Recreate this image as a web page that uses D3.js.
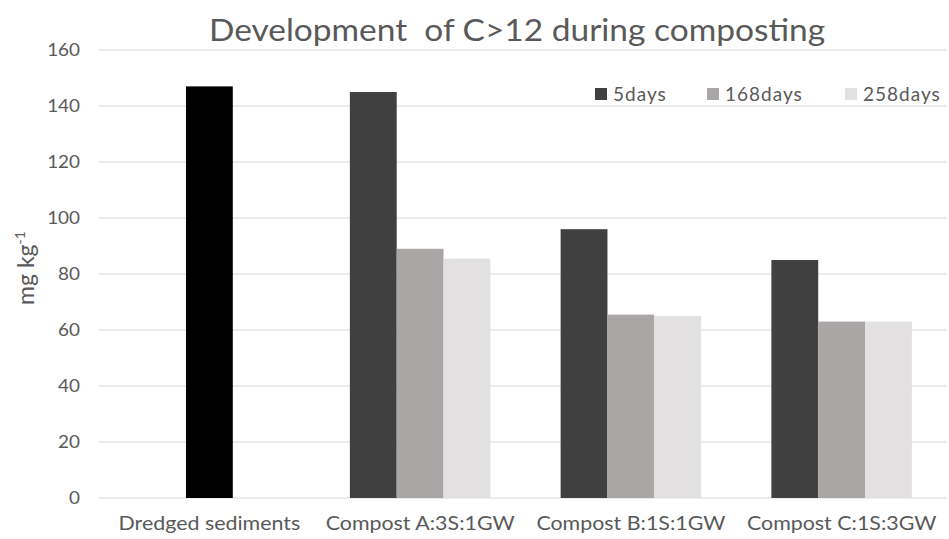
<!DOCTYPE html>
<html><head><meta charset="utf-8">
<script src="https://cdn.jsdelivr.net/npm/d3@7"></script>
<style>body{margin:0;background:#fff;} svg{display:block;font-family:Lato,"Open Sans",sans-serif;}</style>
</head><body>
<svg id="chart" width="949" height="539"></svg>
<script>
const categories = ["Dredged sediments","Compost A:3S:1GW","Compost B:1S:1GW","Compost C:1S:3GW"];
const seriesNames = ["5days","168days","258days"];
const dredgedValue = 147;
const days5 = [null,145,96,85];
const days168 = [null,89,65.5,63];
const days258 = [null,85.5,65,63];
const yTicks = [0,20,40,60,80,100,120,140,160];
const colors = ["#404040","#aaa6a5","#e2e0e0"];
const dredgedColor = "#000000";

(function(){
const svg = d3.select("#chart");
const plotLeft = 99, plotRight = 947, plotTop = 50, plotBottom = 498;
const x = d3.scaleBand().domain(categories).range([104, 947]);
const y = d3.scaleLinear().domain([0,160]).range([plotBottom, plotTop]);
const barW = x.bandwidth() / (3 + 1.5);
const inner = d3.scaleBand().domain(seriesNames).range([0, barW*3]);
const txt = "#595959";

svg.append("g").selectAll("line").data(yTicks).join("line")
  .attr("x1", plotLeft).attr("x2", plotRight)
  .attr("y1", d => y(d)).attr("y2", d => y(d))
  .attr("stroke", "#d9d9d9").attr("stroke-width", 1);

const yAxis = d3.axisLeft(y).tickValues(yTicks).tickSize(0).tickPadding(0);
const ga = svg.append("g").attr("transform", `translate(80,0)`).call(yAxis);
ga.select(".domain").remove();
ga.selectAll("text").attr("fill",txt).style("font-size","18px").style("font-family","Lato,sans-serif")
  .attr("transform","scale(1.05,1)");

svg.append("rect")
  .attr("x", x(categories[0]) + x.bandwidth()/2 - barW/2)
  .attr("width", barW)
  .attr("y", y(dredgedValue)).attr("height", plotBottom - y(dredgedValue))
  .attr("fill", dredgedColor);

const series = [days5, days168, days258];
series.forEach((vals, si) => {
  svg.append("g").selectAll("rect")
    .data(categories.map((c,i)=>({c, v: vals[i]})).filter(d => d.v != null))
    .join("rect")
    .attr("x", d => x(d.c) + (x.bandwidth() - barW*3)/2 + inner(seriesNames[si]))
    .attr("width", barW)
    .attr("y", d => y(d.v)).attr("height", d => plotBottom - y(d.v))
    .attr("fill", colors[si]);
});

const xAxis = d3.axisBottom(x).tickSize(0).tickPadding(0);
const gx = svg.append("g").attr("transform", `translate(0,516)`).call(xAxis);
gx.select(".domain").remove();
gx.selectAll("text").attr("fill",txt).style("font-size","20px").style("font-family","Lato,sans-serif")
  .attr("transform","scale(1.07,1)");

svg.append("text").attr("transform","translate(517,41) scale(1.08,1)").attr("text-anchor","middle")
  .attr("fill",txt).style("font-size","31px").style("font-family","Lato,sans-serif")
  .style("white-space","pre")
  .text("Development  of C>12 during composting");

svg.append("text").attr("transform","translate(34,268) rotate(-90)").attr("text-anchor","middle")
  .attr("fill",txt).style("font-size","23px")
  .call(t => { t.append("tspan").text("mg kg"); t.append("tspan").attr("dy",-9).style("font-size","14px").text("-1"); });

const legX = [595, 707, 845];
seriesNames.forEach((n,i) => {
  const g = svg.append("g").attr("transform", `translate(${legX[i]},94)`);
  g.append("rect").attr("x",0).attr("y",-6).attr("width",12).attr("height",12).attr("fill",colors[i]);
  g.append("text").attr("x",18).attr("y",7).attr("fill",txt).style("font-size","19px").style("letter-spacing","1px").text(n);
});
})();
</script>
</body></html>
